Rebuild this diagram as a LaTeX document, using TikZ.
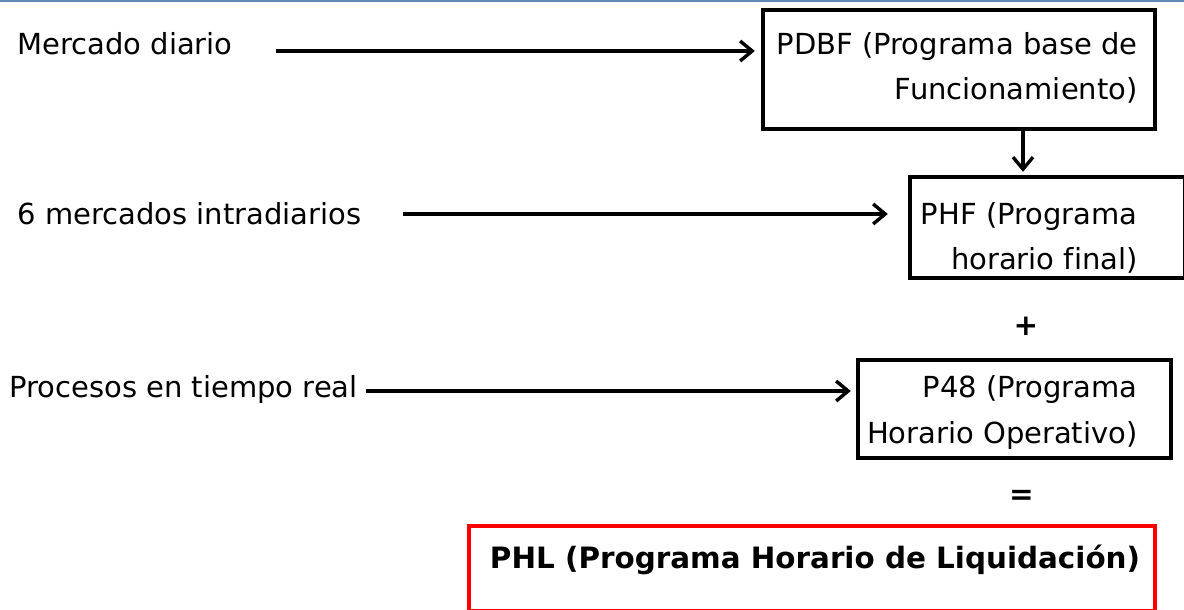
\documentclass[tikz,border=0pt]{standalone}
\usepackage{fontspec}
\setmainfont{DejaVu Sans}[Ligatures=CommonOff]
\usetikzlibrary{arrows.meta}

\definecolor{topblue}{RGB}{96,137,180}
\definecolor{phlred}{RGB}{255,0,0}

\tikzset{
  box/.style={draw, line width=2.2pt, rectangle, inner sep=0pt},
  phlbox/.style={draw=phlred, line width=2.2pt, rectangle, inner sep=0pt},
  txt/.style={inner sep=0pt, font=\fontsize{14.5}{17}\selectfont},
  btxt/.style={inner sep=0pt, font=\fontsize{14.7}{17}\selectfont\bfseries},
  conn/.style={-{Straight Barb[length=6pt,width=10pt]}, line width=1.7pt},
}

\begin{document}
\begin{tikzpicture}[x=0.5pt, y=-0.5pt]
\useasboundingbox (0,0) rectangle (1184,610);
\draw[topblue, line width=0.8pt] (0,0.8) -- (1184,0.8);

% cajas
\node[box, minimum width=196pt, minimum height=59.5pt] (pdbf) at (959,69.5) {};
\node[box, minimum width=137.5pt, minimum height=50.5pt] (phf) at (1047.5,227.5) {};
\node[box, minimum width=156.5pt, minimum height=49pt] (p48) at (1014.5,409) {};
\node[phlbox, minimum width=343pt, minimum height=42.5pt] (phl) at (812,568.5) {};

% textos de las cajas
\node[txt, anchor=base east] (pdbf1) at (1138,55) {PDBF (Programa base de};
\node[txt, anchor=base east] (pdbf2) at (1138,100) {Funcionamiento)};
\node[txt, anchor=base east] (phf1) at (1138,225) {PHF (Programa};
\node[txt, anchor=base east] (phf2) at (1138,270) {horario final)};
\node[txt, anchor=base east] (p481) at (1138,397) {P48 (Programa};
\node[txt, anchor=base east] (p482) at (1138,443) {Horario Operativo)};
\node[btxt, anchor=base] (phl1) at (815,568) {PHL (Programa Horario de Liquidación)};

% entradas
\node[txt, anchor=base west] (mdiario) at (17,55) {Mercado diario};
\node[txt, anchor=base west] (intra) at (17,225) {6 mercados intradiarios};
\node[txt, anchor=base west] (proc) at (9,397) {Procesos en tiempo real};

\node[btxt] (mas) at (1026,326) {+};
\node[btxt] (igual) at (1021.5,497.5) {=};

\coordinate (mdA) at (276,51);
\coordinate (intraA) at (403,214);
\coordinate (procA) at (366,391);

\draw[conn, shorten >=3pt] (mdA) -- (mdA -| pdbf.west);
\draw[conn, shorten >=10pt] (intraA) -- (intraA -| phf.west);
\draw[conn, shorten >=2.5pt] (procA) -- (procA -| p48.west);
\draw[conn, shorten >=1.5pt] ([xshift=32pt]pdbf.south) -- ([xshift=32pt]pdbf.south |- phf.north);
\end{tikzpicture}
\end{document}
